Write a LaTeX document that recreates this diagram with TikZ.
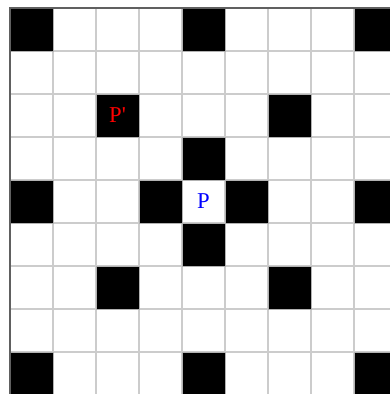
\documentclass[tikz,border=0pt]{standalone}
\usepackage{tikz}
\usepackage{fontspec}
\newfontfamily\cellfont{Liberation Serif}

\begin{document}
\begin{tikzpicture}[
        blk/.style = {rectangle, fill=black, draw=gray!60, minimum size=1cm, inner sep=0pt},
        lbl/.style = {font=\cellfont\fontsize{15}{17}\selectfont},
        x = 1cm, y = 1cm
    ]
        \useasboundingbox (-0.233,-8.977) rectangle (8.837,0.186);
        \clip (-0.233,-8.977) rectangle (8.837,0.186);
        \draw[gray!40, line width=0.9pt] (0,-9) grid (9,0);
        % black cells: column/row, counted from the top left
        \foreach \c/\r in {0/0,4/0,8/0, 2/2,6/2, 4/3, 0/4,3/4,5/4,8/4, 4/5, 2/6,6/6, 0/8,4/8,8/8}
            \node[blk] (b-\c-\r) at (\c+0.5,-\r-0.5) {};
        \node[lbl, text=red]  (pp) at (b-2-2)    {P'};
        \node[lbl, text=blue] (p)  at (4.5,-4.5) {P};
        \draw[gray!75!black, line width=1.3pt] (0,-9) -- (0,0) -- (9,0);
    \end{tikzpicture}
\end{document}
